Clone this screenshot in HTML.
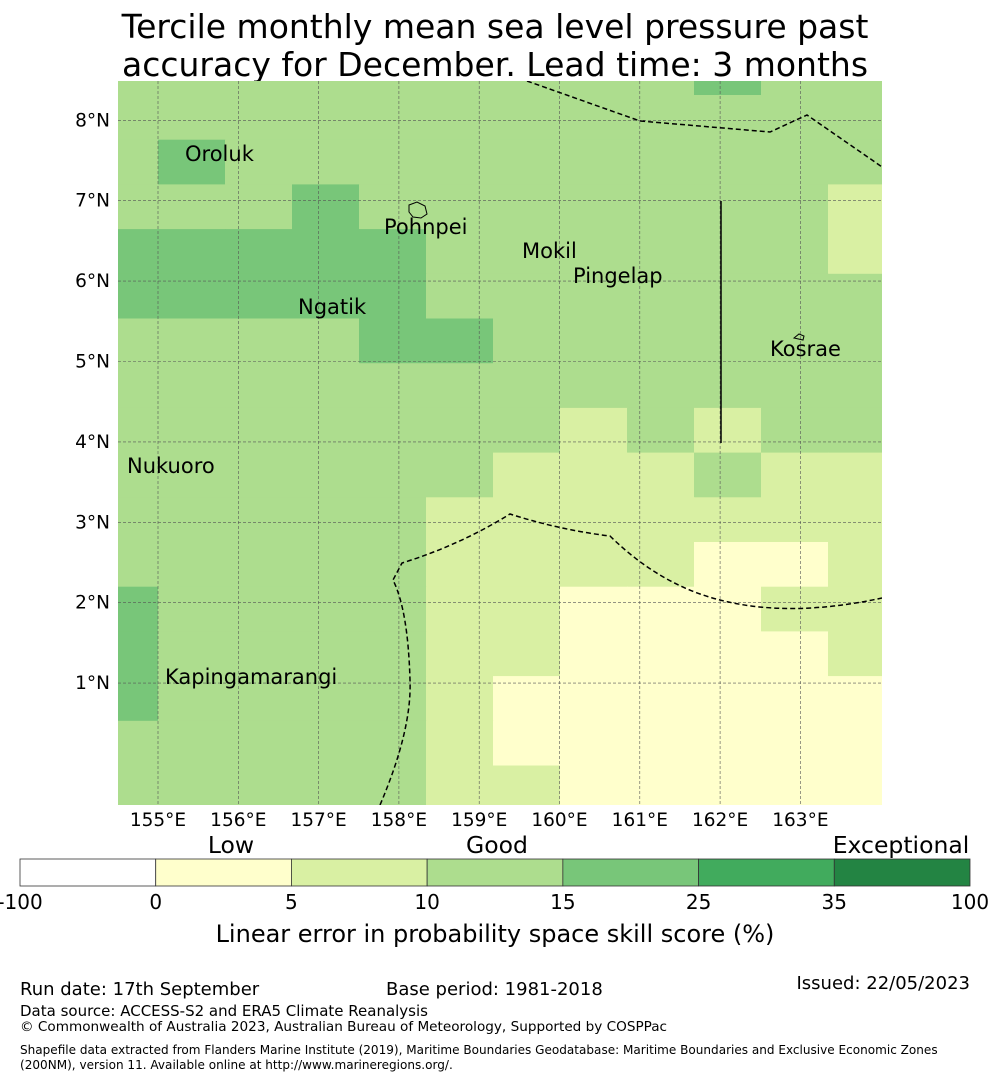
<!DOCTYPE html>
<html><head><meta charset="utf-8"><style>
body{margin:0;background:#fff;width:990px;height:1080px;overflow:hidden;font-family:"DejaVu Sans","Liberation Sans",sans-serif}
svg{position:absolute;left:0;top:0}
</style></head><body>
<svg width="990" height="1080">
<text x="495" y="38" text-anchor="middle" font-size="33">Tercile monthly mean sea level pressure past</text>
<text x="495" y="76" text-anchor="middle" font-size="33">accuracy for December. Lead time: 3 months</text>
<defs><clipPath id="mc"><rect x="118" y="81" width="764" height="724"/></clipPath></defs>
<g id="cells" clip-path="url(#mc)"></g>
<g id="grid" clip-path="url(#mc)"></g>
<g clip-path="url(#mc)" fill="none" stroke="#000" stroke-width="1.5" stroke-dasharray="5,3">
<polyline points="527,81 640,121 770,132 807,115 885,169"/>
<path d="M380,805 Q412,730 410,680 Q408,610 393,580 L402,563 Q460,545 510,514 Q560,530 610,536 Q660,585 720,600 Q790,618 882,598"/>
</g>
<line x1="721" y1="201" x2="721" y2="443" stroke="#000" stroke-width="1.5"/>
<path d="M409,205 l8,-3 l8,4 l2,8 l-6,4 l-8,-1 l-4,-5z" fill="none" stroke="#000" stroke-width="1"/>
<path d="M794,338 l5,-4 l5,2 l-1,4 z" fill="none" stroke="#000" stroke-width="1"/>
<g font-size="21">
<text x="185" y="161">Oroluk</text><text x="384" y="234">Pohnpei</text><text x="522" y="258">Mokil</text>
<text x="573" y="283">Pingelap</text><text x="298" y="314">Ngatik</text><text x="770" y="356">Kosrae</text>
<text x="127" y="473">Nukuoro</text><text x="165" y="684">Kapingamarangi</text></g>
<g id="axes" font-size="18.5"></g>
<g id="cbar"></g>
<g font-size="23.5">
<text x="231" y="853" text-anchor="middle">Low</text><text x="497" y="853" text-anchor="middle">Good</text><text x="901" y="853" text-anchor="middle">Exceptional</text></g>
<text x="495" y="942" text-anchor="middle" font-size="24">Linear error in probability space skill score (%)</text>
<text x="20" y="995" font-size="18">Run date: 17th September</text>
<text x="386" y="995" font-size="18">Base period: 1981-2018</text>
<text x="970" y="989" text-anchor="end" font-size="18">Issued: 22/05/2023</text>
<text x="20" y="1016" font-size="15">Data source: ACCESS-S2 and ERA5 Climate Reanalysis</text>
<text x="20" y="1031" font-size="13.6">© Commonwealth of Australia 2023, Australian Bureau of Meteorology, Supported by COSPPac</text>
<text x="20" y="1054" font-size="12.05">Shapefile data extracted from Flanders Marine Institute (2019), Maritime Boundaries Geodatabase: Maritime Boundaries and Exclusive Economic Zones</text>
<text x="20" y="1069" font-size="12.05">(200NM), version 11. Available online at http://www.marineregions.org/.</text>
</svg>
<script>
const NS="http://www.w3.org/2000/svg";
// grid values: rows top->bottom; codes: D=0-5, C=5-10, A=10-15, B=15-25
const gridRows=[
"AAAAAAAAABAA",
"AAAAAAAAAAAA",
"ABAAAAAAAAAA",
"AAABAAAAAAAC",
"BBBBBAAAAAAC",
"BBBBBAAAAAAA",
"AAAABBAAAAAA",
"AAAAAAAAAAAA",
"AAAAAAACACAA",
"AAAAAACCCACC",
"AAAAACCCCCCC",
"AAAAACCCCDDC",
"BAAAACCDDDCC",
"BAAAACCDDDDC",
"BAAAACDDDDDD",
"AAAAACDDDDDD",
"AAAAACCDDDDD"];
const catColors={D:"#ffffcc",C:"#d9f0a3",A:"#addd8e",B:"#78c679"};
const lonTicks=[155,156,157,158,159,160,161,162,163];
const latTicks=[8,7,6,5,4,3,2,1];
const cbTicks=["-100","0","5","10","15","25","35","100"];
const cbColors=["#ffffff","#ffffcc","#d9f0a3","#addd8e","#78c679","#41ab5d","#238443"];
const lonX=l=>158+(l-155)*80.3;
const latY=l=>763.5-l*80.4;
const cellW=67,cellH=44.7,gx0=91,gy0=50.3;
const cells=document.getElementById("cells");
gridRows.forEach((row,r)=>{[...row].forEach((c,i)=>{
 const e=document.createElementNS(NS,"rect");
 e.setAttribute("x",gx0+i*cellW);e.setAttribute("y",gy0+r*cellH);
 e.setAttribute("width",cellW+0.6);e.setAttribute("height",cellH+0.6);
 e.setAttribute("fill",catColors[c]);
 
 
 cells.appendChild(e);});});
const grid=document.getElementById("grid"),axes=document.getElementById("axes");
lonTicks.forEach(l=>{const x=lonX(l);
 const ln=document.createElementNS(NS,"line");
 ln.setAttribute("x1",x);ln.setAttribute("x2",x);ln.setAttribute("y1",81);ln.setAttribute("y2",805);
 ln.setAttribute("stroke","#555");ln.setAttribute("stroke-width","0.6");ln.setAttribute("stroke-dasharray","3,2");
 
 
 grid.appendChild(ln);
 const t=document.createElementNS(NS,"text");
 t.setAttribute("x",x);t.setAttribute("y",826);t.setAttribute("text-anchor","middle");t.textContent=l+"°E";
 
 
 axes.appendChild(t);});
latTicks.forEach(l=>{const y=latY(l);
 const ln=document.createElementNS(NS,"line");
 ln.setAttribute("x1",118);ln.setAttribute("x2",882);ln.setAttribute("y1",y);ln.setAttribute("y2",y);
 ln.setAttribute("stroke","#555");ln.setAttribute("stroke-width","0.6");ln.setAttribute("stroke-dasharray","3,2");
 
 
 grid.appendChild(ln);
 const t=document.createElementNS(NS,"text");
 t.setAttribute("x",110);t.setAttribute("y",y+6);t.setAttribute("text-anchor","end");t.textContent=l+"°N";
 
 
 axes.appendChild(t);});
const cb=document.getElementById("cbar"),segW=950/7;
cbColors.forEach((c,i)=>{const e=document.createElementNS(NS,"rect");
 e.setAttribute("x",20+i*segW);e.setAttribute("y",859);e.setAttribute("width",segW);e.setAttribute("height",27);
 e.setAttribute("fill",c);e.setAttribute("stroke","#333");e.setAttribute("stroke-width","0.8");
 
 
 cb.appendChild(e);});
cbTicks.forEach((v,i)=>{const t=document.createElementNS(NS,"text");
 t.setAttribute("x",20+i*segW);t.setAttribute("y",909);t.setAttribute("text-anchor","middle");t.setAttribute("font-size","20");t.textContent=v;
 
 
 cb.appendChild(t);});
</script>
</body></html>
